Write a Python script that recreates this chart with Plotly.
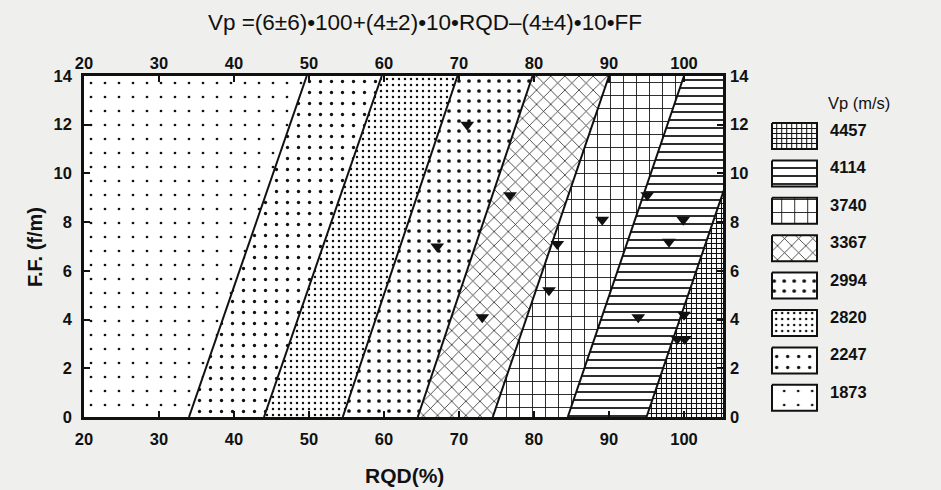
import plotly.graph_objects as go

# ---------------- data ----------------
vp_classes = [1873, 2247, 2820, 2994, 3367, 3740, 4114, 4457]
# iso-Vp boundary lines: RQD value where each line meets FF=0 and FF=14
boundary_rqd_ff0 = [34.0, 44.0, 54.5, 64.5, 74.5, 84.5, 95.0]
boundary_rqd_ff14 = [49.7, 59.7, 69.8, 79.8, 90.0, 100.0, 110.5]
ff_span = [0, 14]

# observed sites (inverted triangles)
site_rqd = [71.1, 67.1, 76.8, 83.1, 82.0, 73.1, 89.1, 95.1, 99.9, 98.0, 93.9, 100.0, 99.1, 100.1]
site_ff = [12.0, 7.0, 9.1, 7.1, 5.2, 4.1, 8.1, 9.1, 8.1, 7.2, 4.1, 4.2, 3.2, 3.2]

x_ticks = [20, 30, 40, 50, 60, 70, 80, 90, 100]
y_ticks = [0, 2, 4, 6, 8, 10, 12, 14]

# ---------------- styles ----------------
patterns = {
    1873: dict(shape=".", size=14, solidity=0.03),
    2247: dict(shape=".", size=11, solidity=0.07),
    2820: dict(shape=".", size=6, solidity=0.13),
    2994: dict(shape=".", size=10, solidity=0.11),
    3367: dict(shape="x", size=10, solidity=0.14),
    3740: dict(shape="+", size=13, solidity=0.13),
    4114: dict(shape="-", size=8, solidity=0.22),
    4457: dict(shape="+", size=5, solidity=0.38),
}
FONT = "Liberation Sans, Arial, sans-serif"
INK = "#111111"
PAPER = "#efefed"

fig = go.Figure()

# ---------------- filled Vp bands ----------------
n = len(vp_classes)
for i, vp in enumerate(vp_classes):
    if i == 0:
        l0, l14 = 0.0, 0.0
    else:
        l0, l14 = boundary_rqd_ff0[i - 1], boundary_rqd_ff14[i - 1]
    if i == n - 1:
        r0, r14 = 130.0, 130.0
    else:
        r0, r14 = boundary_rqd_ff0[i], boundary_rqd_ff14[i]
    p = patterns[vp]
    fig.add_trace(go.Scatter(
        x=[l0, r0, r14, l14, l0],
        y=[ff_span[0], ff_span[0], ff_span[1], ff_span[1], ff_span[0]],
        fill="toself", mode="none", fillcolor="white",
        fillpattern=dict(shape=p["shape"], size=p["size"], solidity=p["solidity"],
                         fgcolor=INK, bgcolor="white", fillmode="replace"),
        showlegend=False, hoverinfo="skip",
        xaxis="x", yaxis="y",
    ))

# ---------------- boundary lines ----------------
for a, b in zip(boundary_rqd_ff0, boundary_rqd_ff14):
    fig.add_trace(go.Scatter(
        x=[a, b], y=ff_span, mode="lines",
        line=dict(color=INK, width=2),
        showlegend=False, hoverinfo="skip",
        xaxis="x2", yaxis="y2",
    ))

# ---------------- sites ----------------
fig.add_trace(go.Scatter(
    x=site_rqd, y=site_ff, mode="markers",
    marker=dict(symbol="triangle-down", size=12, color=INK),
    showlegend=False, xaxis="x", yaxis="y",
))

# ---------------- custom legend (own small axes in pixel-like units) ----------------
leg_x0, leg_x1 = 749.2, 926.0
box_left, box_right = 772, 817
row_top0, row_step, box_h = 123, 37.4, 26
legend_order = list(reversed(vp_classes))
annotations = []
for k, vp in enumerate(legend_order):
    top = row_top0 + k * row_step
    bot = top + box_h
    p = patterns[vp]
    fig.add_trace(go.Scatter(
        x=[box_left, box_right, box_right, box_left, box_left],
        y=[top, top, bot, bot, top],
        fill="toself", mode="lines", fillcolor="white",
        line=dict(color=INK, width=2),
        fillpattern=dict(shape=p["shape"], size=p["size"], solidity=p["solidity"],
                         fgcolor=INK, bgcolor="white", fillmode="replace"),
        showlegend=False, hoverinfo="skip",
        xaxis="x3", yaxis="y3",
    ))
    annotations.append(dict(
        x=828, y=top + 7, xref="x3", yref="y3", text=str(vp), showarrow=False,
        xanchor="left", yanchor="middle",
        font=dict(family=FONT, size=16.5, color=INK, weight="bold"),
    ))
annotations.append(dict(
    x=826, y=103, xref="x3", yref="y3", text="Vp (m/s)", showarrow=False,
    xanchor="left", yanchor="middle",
    font=dict(family=FONT, size=16.5, color=INK),
))

# axis titles
annotations.append(dict(
    x=(404 - 84) / 842, y=-(475 - 417) / 341, xref="paper", yref="paper",
    text="RQD(%)", showarrow=False, xanchor="center", yanchor="middle",
    font=dict(family=FONT, size=21, color=INK, weight="bold"),
))
annotations.append(dict(
    x=-(84 - 35) / 842, y=(417 - 247) / 341, xref="paper", yref="paper",
    text="F.F. (f/m)", textangle=-90, showarrow=False,
    xanchor="center", yanchor="middle",
    font=dict(family=FONT, size=20, color=INK, weight="bold"),
))

# ---------------- layout ----------------
main_dom = [0, 639 / 842]
x_range = [20, 105.2]
y_range = [0, 14]
tickfont = dict(family=FONT, size=16.5, color=INK, weight="bold")

fig.update_layout(
    width=941, height=490, autosize=False,
    margin=dict(l=84, r=15, t=76, b=73, pad=0),
    paper_bgcolor=PAPER, plot_bgcolor=PAPER,
    showlegend=False,
    title=dict(
        text="Vp =(6±6)•100+(4±2)•10•RQD–(4±4)•10•FF",
        x=425 / 941, y=1 - 22 / 490, xanchor="center", yanchor="middle",
        xref="container", yref="container",
        font=dict(family=FONT, size=22.5, color=INK),
    ),
    xaxis=dict(
        domain=main_dom, range=x_range, tickvals=x_ticks,
        showgrid=False, zeroline=False,
        showline=True, mirror=True, linecolor=INK, linewidth=2.5,
        ticks="inside", ticklen=6, tickwidth=1.5, tickcolor=INK,
        tickfont=tickfont, ticklabelstandoff=5,
    ),
    yaxis=dict(
        range=y_range, tickvals=y_ticks,
        showgrid=False, zeroline=False,
        showline=True, mirror=True, linecolor=INK, linewidth=2.5,
        ticks="inside", ticklen=6, tickwidth=1.5, tickcolor=INK,
        tickfont=tickfont, ticklabelstandoff=6,
    ),
    xaxis2=dict(
        overlaying="x", anchor="y", side="top", range=x_range, tickvals=x_ticks,
        showgrid=False, zeroline=False, showline=False,
        ticks="inside", ticklen=6, tickwidth=1.5, tickcolor=INK,
        tickfont=tickfont, ticklabelstandoff=3,
    ),
    yaxis2=dict(
        overlaying="y", anchor="x", side="right", range=y_range, tickvals=y_ticks,
        showgrid=False, zeroline=False, showline=False,
        ticks="inside", ticklen=6, tickwidth=1.5, tickcolor=INK,
        tickfont=tickfont, ticklabelstandoff=6,
    ),
    xaxis3=dict(
        domain=[(leg_x0 - 84) / 842, 1.0], range=[leg_x0, leg_x1], anchor="y3",
        visible=False, fixedrange=True,
    ),
    yaxis3=dict(
        domain=[0, 1], range=[417, 76], anchor="x3",
        visible=False, fixedrange=True,
    ),
    annotations=annotations,
)

fig.write_html("out.html")
